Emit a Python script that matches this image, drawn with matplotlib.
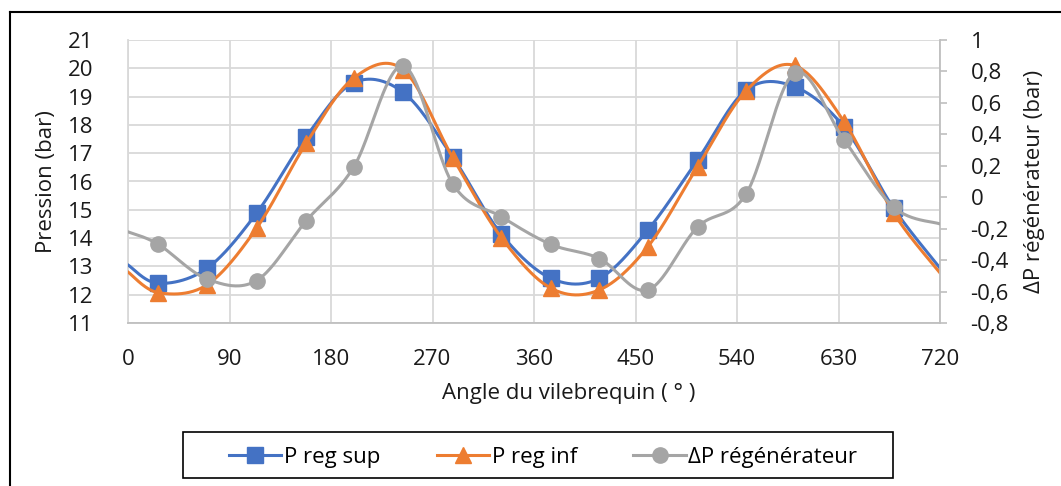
import matplotlib
matplotlib.use("Agg")
import matplotlib.pyplot as plt
import numpy as np
from matplotlib.lines import Line2D
from matplotlib.patches import Rectangle

plt.rcParams["font.family"] = ["Open Sans", "DejaVu Sans"]

# crank angle (deg); first and last points close the curve at the axis ends
angle = [0, 27, 70, 114, 158, 200, 244, 288, 331, 375, 418, 461, 505, 548, 591, 635, 679, 720]
p_sup = [13.05, 12.40, 12.93, 14.88, 17.58, 19.49, 19.15, 16.86, 14.14, 12.58, 12.58,
         14.29, 16.76, 19.23, 19.35, 17.92, 15.05, 12.94]
p_inf = [12.80, 12.07, 12.35, 14.35, 17.35, 19.65, 19.95, 16.84, 14.02, 12.23, 12.17,
         13.70, 16.52, 19.20, 20.10, 18.11, 14.88, 12.77]
dp_reg = [-0.22, -0.30, -0.52, -0.53, -0.15, 0.19, 0.835, 0.084, -0.124, -0.30, -0.39,
          -0.59, -0.19, 0.02, 0.79, 0.364, -0.064, -0.17]

x_ticks = list(range(0, 721, 90))
p_ticks = list(range(11, 22))
dp_ticks = [-0.8, -0.6, -0.4, -0.2, 0, 0.2, 0.4, 0.6, 0.8, 1]

BLUE = "#4472C4"
ORANGE = "#ED7D31"
GREY = "#A5A5A5"
TXT = "#1a1a1a"
FS = 16


def smooth(xs, ys, n=40):
    """Bezier smoothing through every point (spreadsheet-style smoothed line)."""
    pts = np.column_stack([xs, ys]).astype(float)
    ext = np.vstack([pts[0], pts, pts[-1]])
    out = []
    for i in range(len(pts) - 1):
        p0, p1, p2, p3 = ext[i], ext[i + 1], ext[i + 2], ext[i + 3]
        c1 = p1 + (p2 - p0) / 6.0
        c2 = p2 - (p3 - p1) / 6.0
        t = np.linspace(0, 1, n, endpoint=False)[:, None]
        seg = ((1 - t) ** 3) * p1 + 3 * ((1 - t) ** 2) * t * c1 + 3 * (1 - t) * t ** 2 * c2 + t ** 3 * p2
        out.append(seg)
    out.append(pts[-1][None, :])
    out = np.vstack(out)
    return out[:, 0], out[:, 1]


W, H = 1061, 486
fig = plt.figure(figsize=(W / 100, H / 100), dpi=100)
ax = fig.add_axes([128 / W, 1 - 323 / H, 812 / W, 283 / H])
ax2 = ax.twinx()

lw = 2.2
sx, sy = smooth(angle, p_sup)
ax.plot(sx, sy, color=BLUE, lw=lw, zorder=3)
ax.plot(angle[1:-1], p_sup[1:-1], ls="none", marker="s", ms=11, color=BLUE, zorder=4)

sx, sy = smooth(angle, p_inf)
ax.plot(sx, sy, color=ORANGE, lw=lw, zorder=5)
ax.plot(angle[1:-1], p_inf[1:-1], ls="none", marker="^", ms=12, color=ORANGE, zorder=6)

sx, sy = smooth(angle, dp_reg)
ax2.plot(sx, sy, color=GREY, lw=lw, zorder=3)
ax2.plot(angle[1:-1], dp_reg[1:-1], ls="none", marker="o", ms=11, color=GREY, zorder=4)

ax.set_xlim(0, 720)
ax.set_ylim(11, 21)
ax2.set_ylim(-0.8, 1)
ax.set_xticks(x_ticks)
ax.set_yticks(p_ticks)
ax2.set_yticks(dp_ticks)
ax2.set_yticklabels([("%g" % v).replace(".", ",") for v in dp_ticks])

ax.grid(True, color="#d9d9d9", lw=1.3, zorder=0)
ax.set_axisbelow(True)
ax.tick_params(axis="x", length=0, labelsize=FS, pad=19, colors=TXT)
ax.tick_params(axis="y", length=0, labelsize=FS, pad=25, colors=TXT)
ax2.tick_params(axis="y", length=5, width=1.2, color="#bfbfbf", labelsize=FS, pad=17,
                labelcolor=TXT)

for s in ["top", "right"]:
    ax.spines[s].set_visible(False)
ax.spines["left"].set_color("#d9d9d9")
ax.spines["bottom"].set_color("#bfbfbf")
for s in ["top", "left", "bottom"]:
    ax2.spines[s].set_visible(False)
ax2.spines["right"].set_color("#bfbfbf")
for s in ["left", "bottom", "right"]:
    ax.spines[s].set_linewidth(1.3)
ax2.spines["right"].set_linewidth(1.3)

ax.set_xlabel("Angle du vilebrequin ( ° )", fontsize=FS, color=TXT)
ax.set_ylabel("Pression (bar)", fontsize=FS, color=TXT)
ax2.set_ylabel("ΔP régénérateur (bar)", fontsize=FS, color=TXT)
ax.xaxis.set_label_coords((569 - 128) / 812, (323 - 383) / 283)
ax.yaxis.set_label_coords((57 - 128) / 812, 0.5)
ax2.yaxis.set_label_coords((1024 - 128) / 812, 0.5)

handles = [
    Line2D([], [], color=BLUE, lw=lw, marker="s", ms=11),
    Line2D([], [], color=ORANGE, lw=lw, marker="^", ms=12),
    Line2D([], [], color=GREY, lw=lw, marker="o", ms=11),
]
labels = ["P reg sup", "P reg inf", "ΔP régénérateur"]
leg = fig.legend(handles, labels, loc="center", bbox_to_anchor=(543 / W, 1 - 457 / H),
                 ncol=3, fontsize=FS, frameon=False, handlelength=2.35,
                 handletextpad=0.12, columnspacing=2.55)

# legend box and outer frame
fig.add_artist(Rectangle((183 / W, 1 - 478 / H), 710 / W, 46 / H, fill=False,
                         edgecolor="black", lw=1.2, transform=fig.transFigure))
fig.add_artist(Line2D([10 / W, 1], [1 - 12 / H, 1 - 12 / H], color="black", lw=1.5,
                      transform=fig.transFigure))
fig.add_artist(Line2D([10 / W, 10 / W], [0, 1 - 12 / H], color="black", lw=1.5,
                      transform=fig.transFigure))

fig.savefig("out.png", dpi=100)
